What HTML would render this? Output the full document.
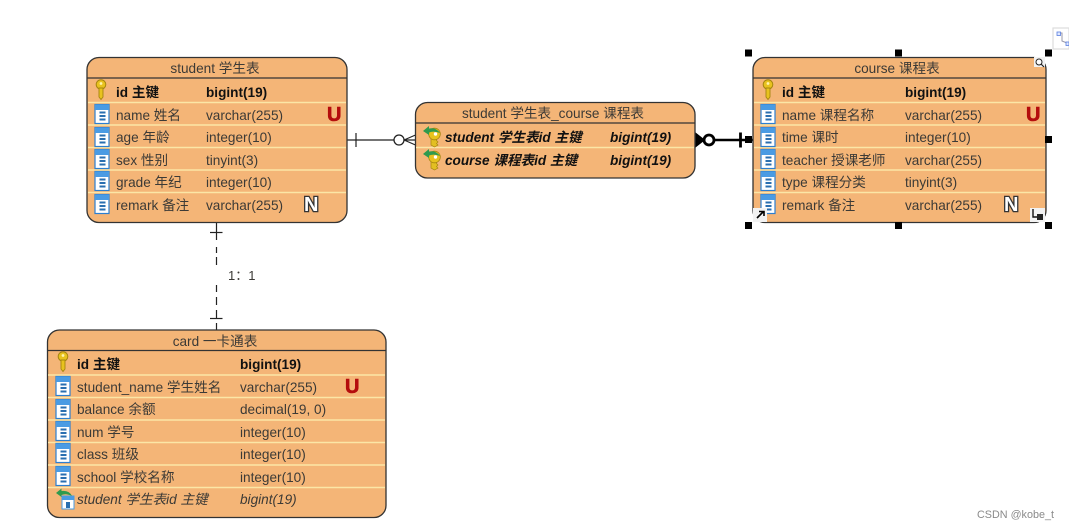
<!DOCTYPE html>
<html><head><meta charset="utf-8"><style>
html,body{margin:0;padding:0;background:#fff;width:1069px;height:529px;overflow:hidden}
svg{display:block;filter:blur(.35px)}
text{font-family:"Liberation Sans","Noto Sans CJK SC",sans-serif;font-size:13.6px;fill:#3c3a36}
.b{font-weight:bold;fill:#111}
.i{font-style:italic}
.bi{font-weight:bold;font-style:italic;fill:#111}
.h{fill:#3c3a36}
.sep{stroke:#fbe6a6;stroke-width:1.5}
.box{fill:#f4b577;stroke:#333;stroke-width:1.3}
.hl{stroke:#333;stroke-width:1.3}
.U{font-weight:bold;font-size:20px;fill:#b40d0d;stroke:#b40d0d;stroke-width:.6}
.N{font-weight:bold;font-size:20px;fill:#fff;stroke:#333;stroke-width:2.6;paint-order:stroke fill}
.s{fill:#000}
</style></head><body>
<svg width="1069" height="529" viewBox="0 0 1069 529" xmlns="http://www.w3.org/2000/svg">
<defs>
<g id="key"><circle cx="0" cy="-5.500" r="4.800" fill="#e8c21e" stroke="#a5850f" stroke-width="1"/><path d="M-2 -2 L-2 7 L0 9.500 L2 7 L2 -2 Z" fill="#e8c21e" stroke="#a5850f" stroke-width=".9"/><circle cx="0" cy="-6.500" r="1.400" fill="#fff4b0"/></g>
<g id="col"><rect x="-7" y="-9.500" width="14" height="19" fill="#fff" stroke="#2c7fd0" stroke-width="1.2"/><rect x="-7" y="-9.500" width="14" height="5.500" fill="#4a9be3"/><rect x="-2.500" y="-2.500" width="6" height="2" fill="#2a6fb0"/><rect x="-2.500" y="1" width="6" height="2" fill="#2a6fb0"/><rect x="-2.500" y="4.500" width="6" height="2" fill="#2a6fb0"/></g>
<g id="fk"><path d="M-2 -3 L-2 8 L1.500 10 L5 8 L3.500 6.500 L5 5 L3.500 3.500 L5 -3 Z" fill="#e3bf22" stroke="#a5850f" stroke-width=".7"/><circle cx="1.500" cy="-3" r="5.800" fill="#e8c21e" stroke="#a5850f" stroke-width=".8"/><circle cx="2.500" cy="-3" r="1.700" fill="#fff"/><path d="M-10 -6 L-4 -11 L-4 -8.500 Q3 -10 7 -4 Q1 -6.500 -4 -4.500 L-4 -2 Z" fill="#2f9a4e"/></g>
<g id="fkc"><rect x="-3" y="-3" width="12" height="13" fill="#fff" stroke="#4a9be3" stroke-width="1"/><rect x="-3" y="-3" width="12" height="4" fill="#4a9be3"/><rect x="1" y="3" width="4" height="6" fill="#2a6fb0"/><path d="M-9 -6 L-3.500 -10.500 L-3.500 -8 Q4 -9 7 -3 Q1 -6 -3.500 -4 L-3.500 -2 Z" fill="#2f9a4e"/></g>
</defs>

<!-- connectors -->
<line x1="347" y1="140" x2="394" y2="140" stroke="#222" stroke-width="1.2"/>
<line x1="356" y1="133" x2="356" y2="147" stroke="#222" stroke-width="1.2"/>
<circle cx="399" cy="140" r="5" fill="#fff" stroke="#222" stroke-width="1.3"/>
<path d="M404 140 L415.500 135 M404 140 L415.500 145 M404 140 L415.500 140" stroke="#222" stroke-width="1.2" fill="none"/>

<line x1="695" y1="140" x2="753" y2="140" stroke="#000" stroke-width="2.600"/>
<path d="M695 133 L704 140 L695 147 Z" fill="#000" stroke="#000" stroke-width="1.500"/>
<circle cx="709" cy="140" r="5" fill="#fff" stroke="#000" stroke-width="2.800"/>
<line x1="740.500" y1="132.500" x2="740.500" y2="147.500" stroke="#000" stroke-width="2.800"/>

<path d="M216.500 222 V240 M216.500 247 V253 M216.500 257 V265 M216.500 285 V292 M216.500 297 V305 M216.500 310 V318 M216.500 323 V330" stroke="#222" stroke-width="1.2" fill="none"/>
<line x1="210" y1="232.500" x2="222.500" y2="232.500" stroke="#222" stroke-width="1.2"/>
<line x1="210" y1="318.500" x2="222.500" y2="318.500" stroke="#222" stroke-width="1.2"/>
<text x="228" y="280" style="font-size:13px">1：1</text>

<!-- student -->
<rect class="box" x="87" y="57.500" width="260" height="165" rx="12"/>
<line class="hl" x1="87" y1="78" x2="347" y2="78"/>
<g class="sep"><line x1="88" y1="102.500" x2="346" y2="102.500"/><line x1="88" y1="125" x2="346" y2="125"/><line x1="88" y1="147.500" x2="346" y2="147.500"/><line x1="88" y1="170" x2="346" y2="170"/><line x1="88" y1="192.500" x2="346" y2="192.500"/></g>
<text class="h" x="215" y="73" text-anchor="middle">student 学生表</text>
<use href="#key" x="101" y="90"/><use href="#col" x="102" y="114"/><use href="#col" x="102" y="137"/><use href="#col" x="102" y="159"/><use href="#col" x="102" y="181"/><use href="#col" x="102" y="204"/>
<text class="b" x="116" y="97">id 主键</text><text class="b" x="206" y="97">bigint(19)</text>
<text x="116" y="120">name 姓名</text><text x="206" y="120">varchar(255)</text>
<text x="116" y="142">age 年龄</text><text x="206" y="142">integer(10)</text>
<text x="116" y="165">sex 性别</text><text x="206" y="165">tinyint(3)</text>
<text x="116" y="187">grade 年纪</text><text x="206" y="187">integer(10)</text>
<text x="116" y="210">remark 备注</text><text x="206" y="210">varchar(255)</text>
<text class="U" x="327" y="121">U</text><text class="N" x="304" y="211">N</text>

<!-- junction -->
<rect class="box" x="415.500" y="102.500" width="279.500" height="75.500" rx="12"/>
<line class="hl" x1="415.500" y1="123" x2="695" y2="123"/>
<line class="sep" x1="416" y1="147.500" x2="694" y2="147.500"/>
<text class="h" x="553" y="118" text-anchor="middle">student 学生表_course 课程表</text>
<use href="#fk" x="433" y="137"/><use href="#fk" x="433" y="160"/>
<text class="bi" x="445" y="142">student 学生表id 主键</text><text class="bi" x="610" y="142">bigint(19)</text>
<text class="bi" x="445" y="165">course 课程表id 主键</text><text class="bi" x="610" y="165">bigint(19)</text>

<!-- course -->
<rect class="box" x="753" y="57.500" width="293" height="165" rx="12"/>
<line class="hl" x1="753" y1="78" x2="1046" y2="78"/>
<g class="sep"><line x1="754" y1="102.500" x2="1045" y2="102.500"/><line x1="754" y1="125" x2="1045" y2="125"/><line x1="754" y1="147.500" x2="1045" y2="147.500"/><line x1="754" y1="170" x2="1045" y2="170"/><line x1="754" y1="192.500" x2="1045" y2="192.500"/></g>
<text class="h" x="897" y="73" text-anchor="middle">course 课程表</text>
<use href="#key" x="768" y="90"/><use href="#col" x="768" y="114"/><use href="#col" x="768" y="137"/><use href="#col" x="768" y="159"/><use href="#col" x="768" y="181"/><use href="#col" x="768" y="204"/>
<text class="b" x="782" y="97">id 主键</text><text class="b" x="905" y="97">bigint(19)</text>
<text x="782" y="120">name 课程名称</text><text x="905" y="120">varchar(255)</text>
<text x="782" y="142">time 课时</text><text x="905" y="142">integer(10)</text>
<text x="782" y="165">teacher 授课老师</text><text x="905" y="165">varchar(255)</text>
<text x="782" y="187">type 课程分类</text><text x="905" y="187">tinyint(3)</text>
<text x="782" y="210">remark 备注</text><text x="905" y="210">varchar(255)</text>
<text class="U" x="1026" y="121">U</text><text class="N" x="1004" y="211">N</text>

<!-- selection handles -->
<g class="s"><rect x="745" y="49.500" width="7" height="7"/><rect x="895" y="49.500" width="7" height="7"/><rect x="1045" y="49.500" width="7" height="7"/><rect x="745" y="136" width="7" height="7"/><rect x="1045" y="136" width="7" height="7"/><rect x="745" y="222" width="7" height="7"/><rect x="895" y="222" width="7" height="7"/><rect x="1045" y="222" width="7" height="7"/></g>
<!-- small course icons -->
<rect x="1034" y="57" width="11" height="10" fill="#f2f2f2"/><circle cx="1039" cy="62" r="3" fill="#fff" stroke="#222" stroke-width="1"/><line x1="1041" y1="64" x2="1044" y2="67" stroke="#222" stroke-width="1.2"/>
<rect x="753" y="208" width="14" height="14" fill="#f2f2f2"/><path d="M757 218 L763 212 M759 211.500 L764 211.500 L764 216" stroke="#000" stroke-width="1.600" fill="none"/>
<rect x="1030" y="208" width="15" height="14" fill="#f2f2f2"/><path d="M1033 209 L1033 217 L1043 217" stroke="#111" stroke-width="1.400" fill="none"/><rect x="1037" y="214" width="6" height="6" fill="#222"/>
<rect x="1053" y="28" width="16" height="21" fill="#fff" stroke="#ddd" stroke-width="1.200"/><path d="M1058 33 L1062 33 L1062 41 L1067 43" stroke="#99a" fill="none"/><rect x="1057" y="32" width="3.500" height="3.500" fill="#dfe8ff" stroke="#5b7fe0" stroke-width=".8"/><rect x="1066" y="42" width="3" height="3.500" fill="#dfe8ff" stroke="#5b7fe0" stroke-width=".8"/>

<!-- card -->
<rect class="box" x="47.500" y="330" width="338.500" height="187.500" rx="12"/>
<line class="hl" x1="47.500" y1="350.500" x2="386" y2="350.500"/>
<g class="sep"><line x1="48" y1="375" x2="385" y2="375"/><line x1="48" y1="397.500" x2="385" y2="397.500"/><line x1="48" y1="420" x2="385" y2="420"/><line x1="48" y1="442.500" x2="385" y2="442.500"/><line x1="48" y1="465" x2="385" y2="465"/><line x1="48" y1="487.500" x2="385" y2="487.500"/></g>
<text class="h" x="215" y="346" text-anchor="middle">card 一卡通表</text>
<use href="#key" x="63" y="362"/><use href="#col" x="63" y="386"/><use href="#col" x="63" y="409"/><use href="#col" x="63" y="431"/><use href="#col" x="63" y="453"/><use href="#col" x="63" y="476"/><use href="#fkc" x="65" y="499"/>
<text class="b" x="77" y="369">id 主键</text><text class="b" x="240" y="369">bigint(19)</text>
<text x="77" y="392">student_name 学生姓名</text><text x="240" y="392">varchar(255)</text>
<text x="77" y="414">balance 余额</text><text x="240" y="414">decimal(19, 0)</text>
<text x="77" y="437">num 学号</text><text x="240" y="437">integer(10)</text>
<text x="77" y="459">class 班级</text><text x="240" y="459">integer(10)</text>
<text x="77" y="482">school 学校名称</text><text x="240" y="482">integer(10)</text>
<text class="i" x="77" y="504">student 学生表id 主键</text><text class="i" x="240" y="504">bigint(19)</text>
<text class="U" x="345" y="393">U</text>

<text x="977" y="518" style="font-size:10.800px;fill:#8a8a8a">CSDN @kobe_t</text>
</svg>
</body></html>
